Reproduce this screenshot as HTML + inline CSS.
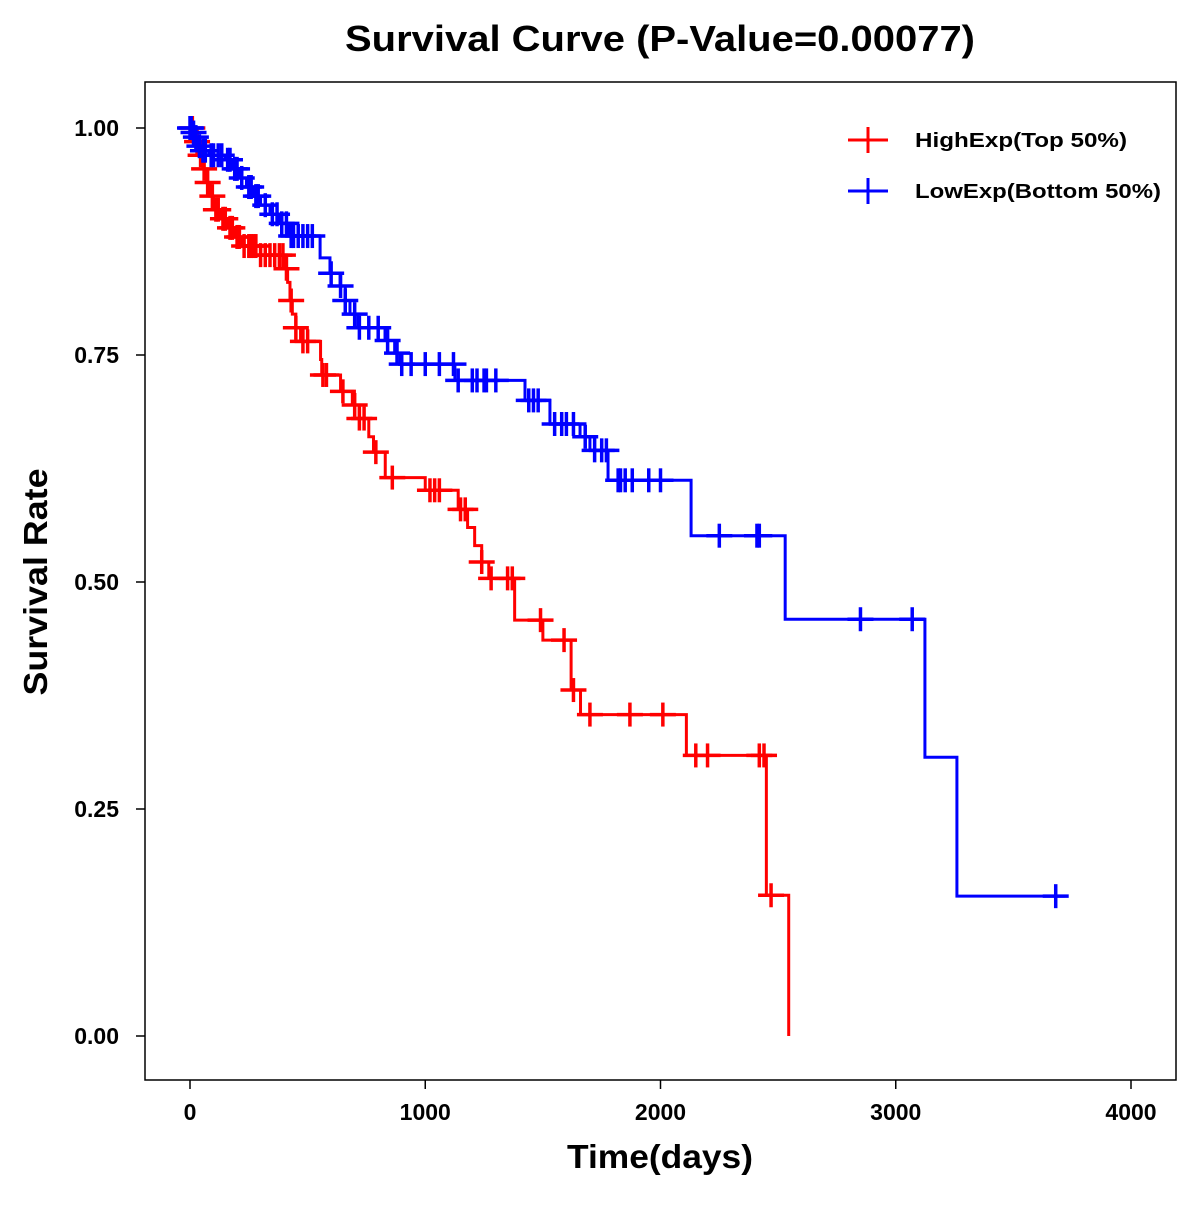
<!DOCTYPE html>
<html><head><meta charset="utf-8"><style>
body{margin:0;background:#fff}
svg text{font-family:"Liberation Sans",Arial,sans-serif;font-weight:bold}
</style></head><body>
<svg id="chart" width="1200" height="1200" xmlns="http://www.w3.org/2000/svg">
<rect width="1200" height="1200" fill="#fff"/>
<text x="660" y="51" font-size="36" text-anchor="middle" textLength="630" lengthAdjust="spacingAndGlyphs">Survival Curve (P-Value=0.00077)</text>
<rect x="145" y="82" width="1031" height="998" fill="none" stroke="#000" stroke-width="1.5"/>
<g id="axes"></g>
<g id="curves"></g>
<text x="660" y="1168" font-size="33" text-anchor="middle" textLength="186" lengthAdjust="spacingAndGlyphs">Time(days)</text>
<text transform="translate(47,582) rotate(-90)" font-size="33" text-anchor="middle" textLength="227" lengthAdjust="spacingAndGlyphs">Survival Rate</text>
<g>
<g>
<line x1="848" y1="140" x2="888" y2="140" stroke="#f00" stroke-width="3"/><line x1="868" y1="127" x2="868" y2="153" stroke="#f00" stroke-width="3"/>
<text x="915" y="147" font-size="20" textLength="212" lengthAdjust="spacingAndGlyphs">HighExp(Top 50%)</text></g>
<g>
<line x1="848" y1="191" x2="888" y2="191" stroke="#00f" stroke-width="3"/><line x1="868" y1="178" x2="868" y2="204" stroke="#00f" stroke-width="3"/>
<text x="915" y="198" font-size="20" textLength="246" lengthAdjust="spacingAndGlyphs">LowExp(Bottom 50%)</text></g>
</g>
</svg>
<script>
const xTicks=[0,1000,2000,3000,4000];
const yTicks=[0,0.25,0.5,0.75,1.0];
const yTickLabels=["0.00","0.25","0.50","0.75","1.00"];
const highTimes=[0,20,40,55,70,85,100,130,160,190,220,300,405,415,425,435,450,470,555,560,640,690,720,760,780,830,1000,1140,1180,1210,1240,1270,1380,1500,1620,1660,2110,2450,2545];
const highSurv=[1,0.985,0.97,0.955,0.94,0.925,0.91,0.9,0.89,0.88,0.87,0.86,0.845,0.83,0.81,0.795,0.78,0.765,0.745,0.728,0.71,0.695,0.68,0.66,0.643,0.615,0.601,0.58,0.56,0.54,0.522,0.504,0.458,0.436,0.381,0.354,0.309,0.155,0];
const highCensor=[10,30,45,60,75,95,110,120,140,150,170,180,200,210,230,250,260,270,280,300,320,340,360,380,395,410,430,450,480,500,565,580,650,700,720,740,790,860,1020,1040,1060,1150,1170,1240,1280,1350,1370,1490,1590,1630,1700,1870,2010,2150,2200,2420,2440,2470];
const lowTimes=[0,10,20,30,50,80,150,180,210,240,270,300,340,380,420,553,595,638,660,680,714,829,870,893,1126,1424,1530,1658,1700,1777,2130,2530,3124,3260];
const lowSurv=[1,0.995,0.99,0.98,0.975,0.97,0.965,0.955,0.945,0.935,0.925,0.915,0.905,0.895,0.881,0.857,0.84,0.826,0.81,0.795,0.78,0.766,0.752,0.74,0.722,0.70,0.674,0.66,0.645,0.612,0.551,0.459,0.307,0.154];
const lowEnd=3719;
const lowCensor=[0,5,15,25,40,55,65,90,100,120,135,160,170,190,200,220,250,260,280,290,320,350,370,390,410,430,440,460,480,500,520,600,640,660,700,720,760,800,840,880,900,940,1000,1060,1120,1140,1200,1220,1250,1260,1300,1440,1460,1480,1550,1580,1600,1630,1680,1720,1750,1770,1820,1830,1850,1880,1950,2000,2250,2410,2420,2850,3070,3680];

const NS="http://www.w3.org/2000/svg";
const X=t=>190+t*0.23525;
const Y=s=>1036-s*908;
function mk(tag,attrs,parent){const e=document.createElementNS(NS,tag);for(const k in attrs)e.setAttribute(k,attrs[k]);parent.appendChild(e);return e;}
const axes=document.getElementById('axes');
xTicks.forEach(v=>{
  const l=mk('line',{x1:X(v),x2:X(v),y1:1080,y2:1089,stroke:'#000','stroke-width':1.5},axes);
  
  
  const t=mk('text',{x:X(v),y:1120,'font-size':23,'text-anchor':'middle'},axes);t.textContent=v;
  
  
});
yTicks.forEach((v,i)=>{
  const l=mk('line',{x1:136,x2:145,y1:Y(v),y2:Y(v),stroke:'#000','stroke-width':1.5},axes);
  
  
  const t=mk('text',{x:119,y:Y(v)+8,'font-size':23,'text-anchor':'end'},axes);t.textContent=yTickLabels[i];
  
  
});
const curves=document.getElementById('curves');
function survAt(times,surv,t){let s=surv[0];for(let i=0;i<times.length;i++){if(times[i]<=t)s=surv[i];}return s;}
function draw(times,surv,end,censor,color,name){
  let d='M'+X(times[0])+','+Y(surv[0]);
  for(let i=1;i<times.length;i++){d+=' H'+X(times[i])+' V'+Y(surv[i]);}
  if(end!=null)d+=' H'+X(end);
  const p=mk('path',{d:d,fill:'none',stroke:color,'stroke-width':3},curves);
  
  
  censor.forEach(c=>{
    const s=survAt(times,surv,c);
    const g=mk('g',{},curves);
    
    
    mk('line',{x1:X(c)-13,x2:X(c)+13,y1:Y(s),y2:Y(s),stroke:color,'stroke-width':3.5},g);
    mk('line',{x1:X(c),x2:X(c),y1:Y(s)-12,y2:Y(s)+12,stroke:color,'stroke-width':3.5},g);
  });
}
draw(highTimes,highSurv,null,highCensor,'#f00','high-exp');
draw(lowTimes,lowSurv,lowEnd,lowCensor,'#00f','low-exp');
</script>
</body></html>
